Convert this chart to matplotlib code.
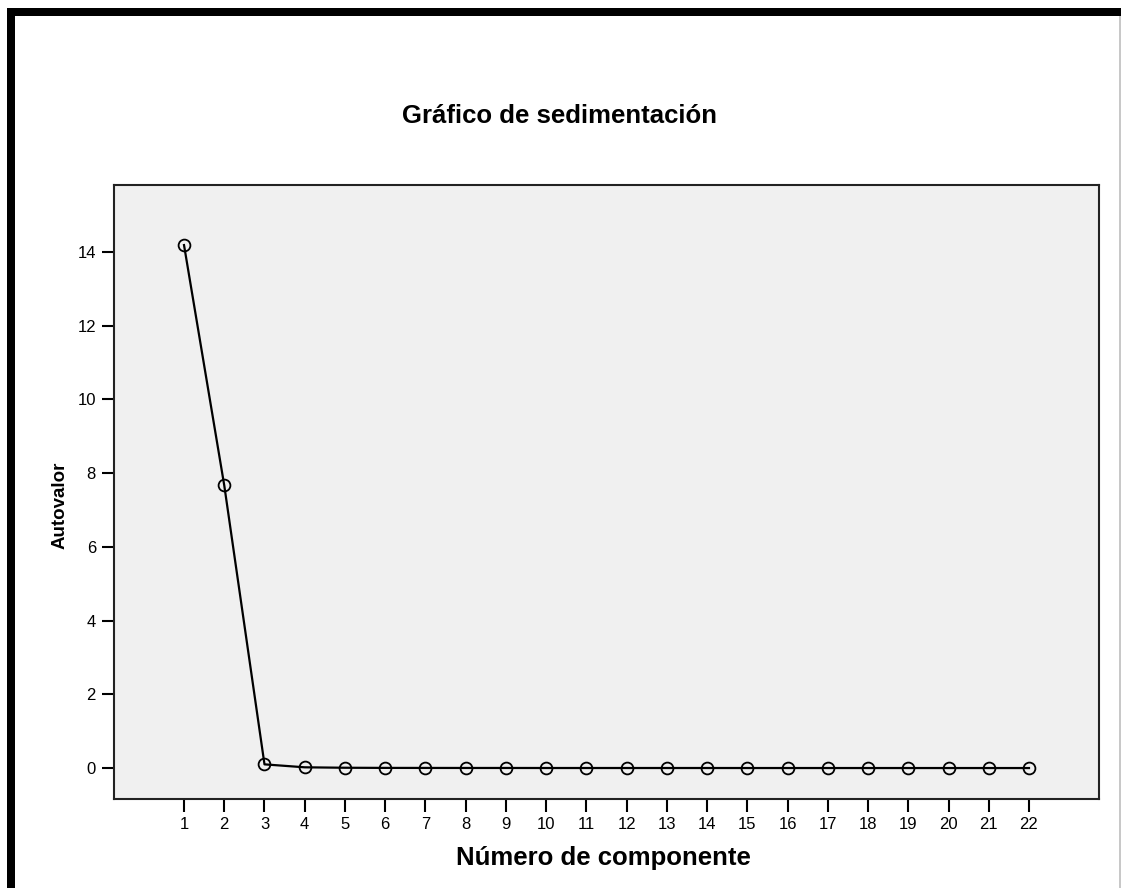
import matplotlib.pyplot as plt
from matplotlib.patches import Rectangle

plt.rcParams["font.family"] = ["Liberation Sans", "DejaVu Sans"]

# Scree plot data (eigenvalues)
componentes = list(range(1, 23))
autovalores = [14.19, 7.67, 0.10, 0.02, 0.008, 0.004, 0.003, 0.002, 0.002,
               0.001, 0.001, 0.001, 0.001, 0.001, 0.0005, 0.0005, 0.0004,
               0.0003, 0.0002, 0.0002, 0.0001, 0.0001]
yticks = [0, 2, 4, 6, 8, 10, 12, 14]

W, H = 1121, 888
fig = plt.figure(figsize=(W / 100, H / 100), dpi=100)
fig.patch.set_facecolor("white")

# thick frame around the chart (left and top edges)
fig.add_artist(Rectangle((7 / W, 0), 8 / W, 1 - 8 / H, transform=fig.transFigure,
                         facecolor="black", edgecolor="none"))
fig.add_artist(Rectangle((7 / W, 1 - 16 / H), 1, 8 / H, transform=fig.transFigure,
                         facecolor="black", edgecolor="none"))
fig.add_artist(Rectangle((1119 / W, 0), 1.5 / W, 1 - 16 / H, transform=fig.transFigure,
                         facecolor="#c8c8c8", edgecolor="none"))

ax = fig.add_axes([114 / W, 1 - 799 / H, (1099 - 114) / W, (799 - 185) / H])
ax.set_facecolor("#f0f0f0")

ax.plot(componentes, autovalores, color="black", linewidth=1.6,
        marker="o", markersize=8.5, markerfacecolor="none",
        markeredgecolor="black", markeredgewidth=1.3)

ax.set_xlim(-0.74, 23.74)
ax.set_ylim(-0.84, 15.82)
ax.set_xticks(componentes)
ax.set_yticks(yticks)
ax.tick_params(direction="out", length=9, width=1.5, labelsize=12,
               colors="black", pad=4)

for s in ax.spines.values():
    s.set_linewidth(1.5)
    s.set_color("#222222")

fig.text(560 / W, 1 - 116 / H, "Gráfico de sedimentación", ha="center", va="center",
         fontsize=18.5, fontweight="bold")
fig.text(603 / W, 1 - 858 / H, "Número de componente", ha="center", va="center",
         fontsize=18.5, fontweight="bold")
fig.text(60 / W, 1 - 505 / H, "Autovalor", ha="center", va="center", rotation=90,
         fontsize=13.5, fontweight="bold")

fig.savefig("out.png", dpi=100)
